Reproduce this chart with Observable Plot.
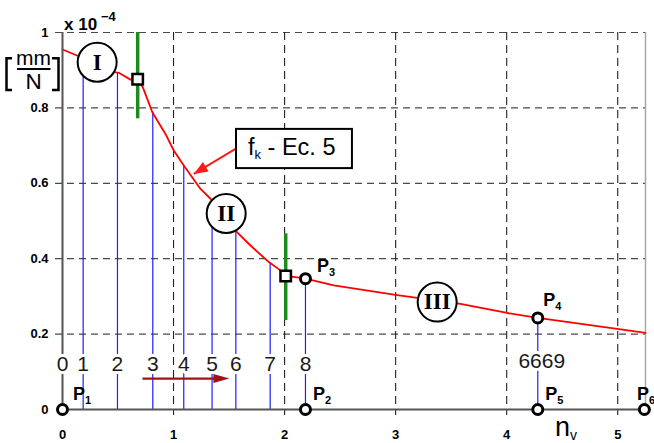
<!DOCTYPE html>
<html>
<head>
<meta charset="utf-8">
<script src="https://cdn.jsdelivr.net/npm/d3@7"></script>
<script src="https://cdn.jsdelivr.net/npm/@observablehq/plot@0.6"></script>
<style>
  html, body { margin: 0; padding: 0; background: #fff; overflow: hidden; }
  #chart svg { display: block; }
</style>
</head>
<body>
<div id="chart"></div>
<script>
// Flexibility f_k (x 10^-4 mm/N) against n_v
const curveX = [0, 0.147, 0.471, 0.507, 0.612, 0.680, 0.723, 0.808, 0.927, 1.002, 1.092, 1.243, 1.333,
                1.573, 1.693, 1.858, 1.963, 2.008, 2.098, 2.188, 2.443, 2.999, 3.584, 4.004, 4.280, 4.995, 5.250];
const curveF = [0.955, 0.937, 0.895, 0.893, 0.875, 0.876, 0.855, 0.789, 0.731, 0.687, 0.647, 0.585, 0.559,
                0.470, 0.435, 0.391, 0.369, 0.354, 0.351, 0.347, 0.329, 0.304, 0.280, 0.256, 0.243, 0.214, 0.203];

// Stations 0..8 and 6669, with their f_k values
const stationX = [0, 0.186, 0.495, 0.813, 1.092, 1.347, 1.561, 1.870, 2.188, 4.280];
const stationF = [0.955, 0.932, 0.894, 0.787, 0.647, 0.557, 0.470, 0.388, 0.347, 0.243];
const stationLabel = ["0", "1", "2", "3", "4", "5", "6", "7", "8", "6669"];

// Points P1..P6
const pointName = ["1", "2", "3", "4", "5", "6"];
const pointX = [0, 2.188, 2.188, 4.280, 4.280, 5.240];
const pointF = [0, 0, 0.347, 0.243, 0, 0];

// Zone boundaries (square markers with green bars)
const boundaryX = [0.677, 2.010];
const boundaryF = [0.876, 0.354];
const boundaryLo = [0.771, 0.236];
const boundaryHi = [1.0, 0.466];

// Zones I, II, III
const zoneLabel = ["I", "II", "III"];
const zoneX = [0.312, 1.474, 3.374];
const zoneF = [0.921, 0.520, 0.285];

// Axis ticks
const xTicks = [0, 1, 2, 3, 4, 5];
const yTicks = [0, 0.2, 0.4, 0.6, 0.8, 1];
const gridX = [1, 2, 3, 4, 5];
const gridY = [0.2, 0.4, 0.6, 0.8, 1];

const curve = curveX.map((x, i) => ({x, f: curveF[i]}));
const stations = stationX.map((x, i) => ({x, f: stationF[i], label: stationLabel[i]}));
const points = pointX.map((x, i) => ({x, f: pointF[i], name: pointName[i]}));
const bounds = boundaryX.map((x, i) => ({x, f: boundaryF[i], lo: boundaryLo[i], hi: boundaryHi[i]}));
const zones = zoneX.map((x, i) => ({x, f: zoneF[i], label: zoneLabel[i]}));

// Callout box for f_k and the two arrows (in data units)
const box = {x1: 1.567, x2: 2.611, y1: 0.639, y2: 0.743};
const calloutArrow = {x1: 1.573, y1: 0.694, x2: 1.182, y2: 0.625};
const directionArrow = {x1: 0.72, x2: 1.503, y: 0.082};

const SANS = "'Liberation Sans', Arial, Helvetica, sans-serif";
const SERIF = "'Liberation Serif', 'Times New Roman', serif";

// Filled arrowhead, tip at the origin, pointing up before rotation
const arrowHead = (len, half) => ({
  draw(ctx) { ctx.moveTo(0, 0); ctx.lineTo(-half, len); ctx.lineTo(half, len); ctx.closePath(); }
});

function addText(parent, x, y, base, sub, o) {
  const t = parent.append("text")
    .attr("x", x).attr("y", y)
    .attr("text-anchor", o.anchor || "start")
    .attr("font-family", o.family || SANS)
    .attr("font-size", o.size)
    .attr("font-weight", o.weight || "normal")
    .attr("fill", o.fill || "#000")
    .style("white-space", "pre");
  t.append("tspan").text(base);
  if (sub != null) t.append("tspan").attr("font-size", o.subSize).attr("dy", o.shift).text(sub);
  if (o.tail != null) t.append("tspan").attr("font-size", o.size).attr("dy", -o.shift).text(o.tail);
  return t;
}

// Point labels P1..P6 (offset in px from each point)
const pOffset = [[11, -9], [8, -9], [12, -6], [6, -11], [8, -9], [-7, -9]];
const pointLabels = (index, {x, y}) => {
  const g = d3.create("svg:g");
  points.forEach((p, i) => {
    addText(g, x(p.x) + pOffset[i][0], y(p.f) + pOffset[i][1], "P", p.name,
      {size: 18, weight: "bold", subSize: 11, shift: 3.5});
  });
  return g.node();
};

// Callout box text
const calloutText = (index, {x, y}) => {
  const g = d3.create("svg:g");
  g.append("rect")
    .attr("x", x(box.x1)).attr("y", y(box.y2))
    .attr("width", x(box.x2) - x(box.x1)).attr("height", y(box.y1) - y(box.y2))
    .attr("fill", "white").attr("stroke", "black").attr("stroke-width", 2);
  addText(g, x(box.x1) + 12, y(box.y2) + 26.5, "f", "k",
    {size: 23.5, subSize: 13, shift: 4, tail: " - Ec. 5"});
  return g.node();
};

// Axis title n_v, exponent and unit
const annotations = (index, {x, y}) => {
  const g = d3.create("svg:g");
  addText(g, x(4.44), y(0) + 27, "n", "v", {size: 27, subSize: 14, shift: 4});
  addText(g, x(0) + 2, y(1) - 2, "x 10", null, {size: 17, weight: "bold"});
  addText(g, x(0) + 39, y(1) - 11, "\u22124", null, {size: 13, weight: "bold"});
  // [ mm / N ]
  const u = g.append("g").attr("fill", "none").attr("stroke", "black").attr("stroke-width", 2.5);
  u.append("path").attr("d", "M12,58.3H6.5V90H12");
  u.append("path").attr("d", "M52,58.3H58.5V90H52");
  g.append("line").attr("x1", 17).attr("x2", 50.5).attr("y1", 69).attr("y2", 69)
    .attr("stroke", "black").attr("stroke-width", 2);
  addText(g, 33.5, 65, "mm", null, {size: 21, anchor: "middle"});
  addText(g, 33.5, 89.3, "N", null, {size: 22.5, anchor: "middle"});
  return g.node();
};

const chart = Plot.plot({
  width: 654,
  height: 443,
  marginLeft: 62,
  marginRight: 9,
  marginTop: 32,
  marginBottom: 34,
  x: {domain: [0, 5.25]},
  y: {domain: [0, 1]},
  style: {fontFamily: SANS, background: "white", color: "black", overflow: "visible"},
  marks: [
    // dashed grid
    Plot.ruleY(gridY, {stroke: "#4a4a4a", strokeWidth: 1.2, strokeDasharray: "7,5", insetLeft: -7}),
    Plot.ruleX(gridX, {stroke: "#222", strokeWidth: 1.1, strokeDasharray: "8,5", insetBottom: -6}),
    Plot.ruleX([5.25], {stroke: "#a8a8a8", strokeWidth: 1.5}),
    // drops from the curve to the n_v axis
    Plot.ruleX(stations.slice(1), {x: "x", y1: 0, y2: "f", stroke: "#1f1fff", strokeWidth: 1.2}),
    // zone boundaries
    Plot.ruleX(bounds, {x: "x", y1: "lo", y2: "hi", stroke: "#1d8a1d", strokeWidth: 3.5}),
    // f_k curve
    Plot.line(curve, {x: "x", y: "f", stroke: "#ff0000", strokeWidth: 1.8}),
    // axes lines
    Plot.ruleX([0], {stroke: "#555", strokeWidth: 2}),
    Plot.ruleY([0], {stroke: "#555", strokeWidth: 2}),
    // station numbers, with a white halo breaking the lines behind them
    Plot.text(stations.slice(0, -1), {
      x: "x", text: "label", frameAnchor: "bottom", dy: -39, lineAnchor: "bottom",
      fontSize: 21, fill: "#1a1a1a", stroke: "white", strokeWidth: 6, paintOrder: "stroke"
    }),
    Plot.text(stations.slice(-1), {
      x: "x", text: "label", frameAnchor: "bottom", dx: 4, dy: -42, lineAnchor: "bottom",
      fontSize: 21, fill: "#1a1a1a", stroke: "white", strokeWidth: 6, paintOrder: "stroke"
    }),
    Plot.axisY(yTicks, {
      tickSize: 0, tickPadding: 14, fontSize: 13, fontWeight: "bold", label: null,
      tickFormat: d => (d === 0 || d === 1 ? String(d) : d.toFixed(1))
    }),
    Plot.axisX(xTicks, {tickSize: 0, tickPadding: 20, fontSize: 13, fontWeight: "bold", label: null}),
    // callout arrow and box
    Plot.link([calloutArrow], {x1: "x1", y1: "y1", x2: "x2", y2: "y2", stroke: "#ff1a1a", strokeWidth: 2}),
    Plot.dot([calloutArrow], {x: "x2", y: "y2", symbol: arrowHead(14, 5.5), rotate: 239, fill: "#ff1a1a", stroke: "none"}),
    calloutText,
    // direction arrow
    Plot.link([directionArrow], {x1: "x1", x2: d => d.x2 - 0.1, y1: "y", y2: "y", stroke: "#9e1414", strokeWidth: 2.2}),
    Plot.dot([directionArrow], {x: "x2", y: "y", symbol: arrowHead(16, 4.5), rotate: 90, fill: "#9e1414", stroke: "none"}),
    // zones
    Plot.dot(zones, {x: "x", y: "f", r: 19.5, fill: "white", stroke: "black", strokeWidth: 2}),
    Plot.text(zones, {x: "x", y: "f", text: "label", fontFamily: SERIF, fontWeight: "bold", fontSize: 23}),
    // boundary markers
    Plot.dot(bounds, {x: "x", y: "f", symbol: "square", r: 5.9, fill: "white", stroke: "black", strokeWidth: 2.5}),
    // points
    Plot.dot(points, {x: "x", y: "f", r: 5, fill: "white", stroke: "black", strokeWidth: 3}),
    pointLabels,
    annotations
  ]
});

document.getElementById("chart").appendChild(chart);
</script>
</body>
</html>
